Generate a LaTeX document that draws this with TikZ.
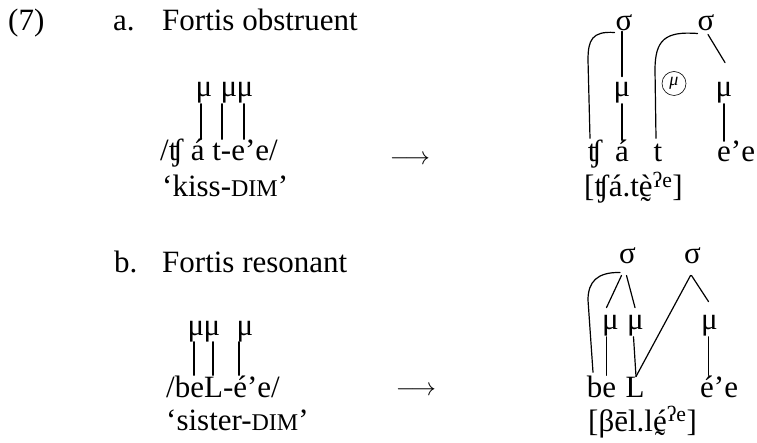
\documentclass[tikz,border=0pt]{standalone}
\usepackage{fontspec}
\setmainfont{Liberation Serif}
\usetikzlibrary{calc}
% small tilde set under a letter
\newcommand\tbelow[1]{\ooalign{#1\cr\hidewidth\smash{\raisebox{-0.7em}{\char"02DC}}\hidewidth\cr}}
\newcommand\smcap[1]{{\fontsize{24}{24}\selectfont #1}}
\begin{document}
\begin{tikzpicture}[x=1pt,y=-1pt,
  every node/.style={inner sep=0pt,font=\fontsize{31}{35}\selectfont},
  lbl/.style={anchor=base west},
  seg/.style={anchor=base},
  arr/.style={anchor=base,font=\fontsize{24}{24}\selectfont},
  link/.style={line width=1.2pt,line cap=round},
  moracirc/.style={draw,circle,line width=0.6pt,minimum size=24pt,
    font=\fontsize{18}{18}\selectfont\itshape}]
\useasboundingbox (0,0) rectangle (757,443);

% headings
\node[lbl] (ex) at (8,31) {(7)};
\node[lbl] (la) at (113,31) {a.};
\node[lbl] (ta) at (162,31) {Fortis obstruent};
\node[lbl] (lb) at (114,273) {b.};
\node[lbl] (tb) at (162,273) {Fortis resonant};

% (a) underlying form
\node[seg] (ua1) at (204,97) {μ};
\node[seg] (ua2) at (229,97) {μ};
\node[seg] (ua3) at (245,97) {μ};
\node[lbl] (wa) at (160,161) {/ʧ á t-e’e/};
\node[lbl] (ga) at (162,197) {‘kiss-\smcap{DIM}’};
\draw[link] ($(ua1.south)+(-3,0)$) -- ($(ua1.south |- wa.north)+(-3,0)$);
\draw[link] ($(ua2.south)+(-7,0)$) -- ($(ua2.south |- wa.north)+(-7,0)$);
\draw[link] ($(ua3.south)+(-1,0)$) -- ($(ua3.south |- wa.north)+(-1,0)$);

\node[arr] (arra) at (410,165) {$\longrightarrow$};

% (a) surface syllable structure
\node[seg] (sa1) at (624,31) {σ};
\node[seg] (sa2) at (706,31) {σ};
\node[seg] (ma1) at (622,97) {μ};
\node[moracirc] (mc) at (674,83.5) {μ};
\node[seg] (ma3) at (724,97) {μ};
\node[seg] (ch) at (595,162) {ʧ};
\node[seg] (aa) at (622,162) {á};
\node[seg] (tt) at (658,162) {t};
\node[lbl] (ee) at (717,162) {e’e};
\node[lbl] (ra) at (584,197) {[ʧá.t\tbelow{è}\textsuperscript{ʔe}]};

\draw[link] ($(sa1.south west)+(-1,1)$) .. controls (592,31) and (588,40) .. (588,60)
  -- ($(ch.north)+(-5,-2)$);
\draw[link] (ma1.north |- sa1.south) -- ($(ma1.north)+(0,-6)$);
\draw[link] (ma1.south) -- (ma1.south |- aa.north);
\draw[link] ($(sa2.south west)+(0,2)$) .. controls (665,31) and (655,40) .. (655,70)
  -- ($(tt.north)+(-2,-6)$);
\draw[link] ($(sa2.south)+(2,3)$) -- ($(ma3.north)+(1,-20)$);
\draw[link] (ma3.south) -- ($(ma3.south |- ee.north)$);

% (b) underlying form
\node[seg] (ub1) at (196,335) {μ};
\node[seg] (ub2) at (212,335) {μ};
\node[seg] (ub3) at (245,335) {μ};
\node[lbl] (wb) at (166,397) {/beL-é’e/};
\node[lbl] (gb) at (166,430) {‘sister-\smcap{DIM}’};
\draw[link] ($(ub1.south)+(-2,0)$) -- ($(ub1.south |- wb.north)+(-2,0)$);
\draw[link] ($(ub2.south)+(1,0)$) -- ($(ub2.south |- wb.north)+(1,0)$);
\draw[link] ($(ub3.south)+(-6,0)$) -- ($(ub3.south |- wb.north)+(-6,0)$);

\node[arr] (arrb) at (416,395) {$\longrightarrow$};

% (b) surface syllable structure
\node[seg] (sb1) at (627.5,264) {σ};
\node[seg] (sb2) at (692.5,264) {σ};
\node[seg] (mb1) at (610.5,330) {μ};
\node[seg] (mb2) at (635.5,330) {μ};
\node[seg] (mb3) at (709.5,330) {μ};
\node[seg] (be) at (601.5,397) {be};
\node[seg] (ll) at (635,397) {L};
\node[lbl] (ee2) at (700,397) {é’e};
\node[lbl] (rb) at (588,431) {[βēl.l\tbelow{é}\textsuperscript{ʔe}]};

\draw[link] ($(sb1.south)+(-7.5,8)$) .. controls (597,272) and (588,282) .. (588,300)
  -- ($(be.north)+(-8.5,-3)$);
\draw[link] ($(sb1.south)+(-6,11)$) -- ($(mb1.north)+(-4,-8)$);
\draw[link] ($(sb1.south)+(-1,11)$) -- ($(mb2.north)+(-0.5,-8)$);
\draw[link] ($(sb2.south)+(-2,11)$) -- ($(ll.north)+(1,0)$);
\draw[link] ($(sb2.south)+(-1,11)$) -- ($(mb3.north)+(-1,-14)$);
\draw[link] ($(mb1.south)+(-4,0)$) -- ($(mb1.south |- be.north)+(-4,0)$);
\draw[link] ($(mb2.south)+(-2,0)$) -- ($(ll.north)+(1,0)$);
\draw[link] ($(mb3.south)+(-1,0)$) -- ($(mb3.south |- ee2.north)+(-1,0)$);
\end{tikzpicture}
\end{document}
